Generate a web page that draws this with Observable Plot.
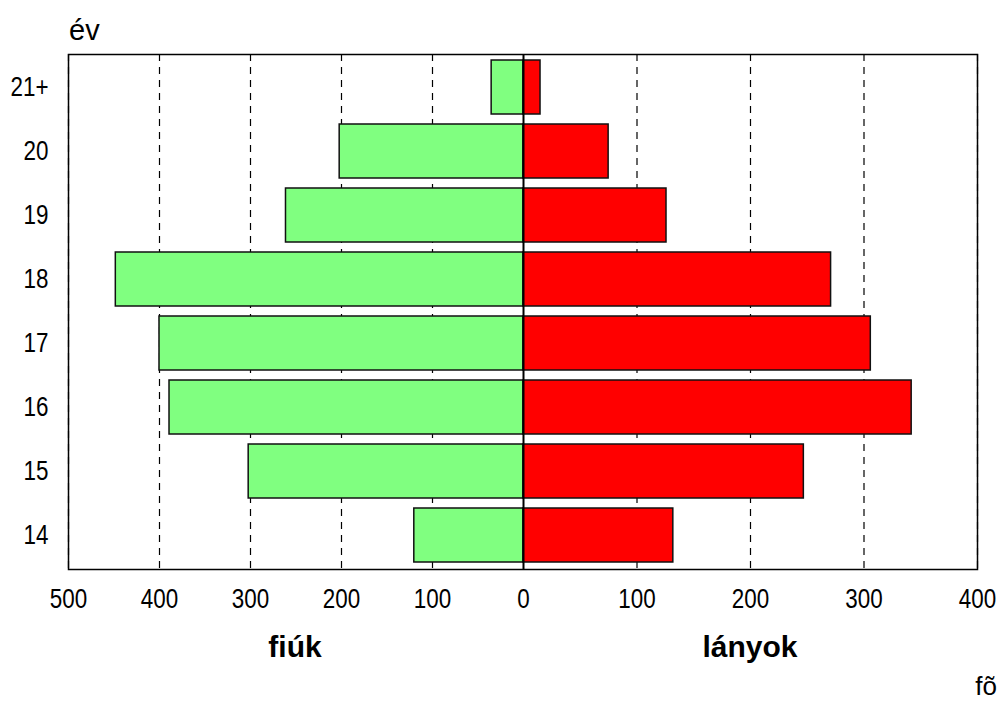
<!DOCTYPE html>
<html>
<head>
<meta charset="utf-8">
<script src="https://cdn.jsdelivr.net/npm/d3@7"></script>
<script src="https://cdn.jsdelivr.net/npm/@observablehq/plot@0.6"></script>
<style>
  html, body { margin: 0; padding: 0; background: #fff; }
  #wrap { position: relative; width: 1000px; height: 716px; overflow: hidden; }
  #wrap svg { position: absolute; left: 0; top: 0; }
  .lbl { position: absolute; line-height: 1; white-space: nowrap; color: #000; }
  .narrow { font-family: "Liberation Sans Narrow", "Arial Narrow", "Liberation Sans", Arial, sans-serif; }
  .bold { font-family: "Liberation Sans", Arial, sans-serif; font-weight: bold; font-size: 30px; width: 240px; text-align: center; }
</style>
</head>
<body>
<div id="wrap">
  <div class="lbl narrow" style="left:69px; top:16px; font-size:29px;">év</div>
  <div class="lbl bold" style="left:175px; top:632px;">fiúk</div>
  <div class="lbl bold" style="left:630px; top:632px;">lányok</div>
  <div class="lbl narrow" style="right:3px; top:673px; font-size:26px;">fõ</div>
</div>
<script>
const ages = ["21+", "20", "19", "18", "17", "16", "15", "14"];
const fiuk = [35, 202, 261, 448, 400, 389, 302, 120];
const lanyok = [15, 75, 126, 271, 306, 342, 247, 132];
const xTicks = [-500, -400, -300, -200, -100, 0, 100, 200, 300, 400];

const boys = ages.map((a, i) => ({age: a, v: -fiuk[i]}));
const girls = ages.map((a, i) => ({age: a, v: lanyok[i]}));
const gridTicks = xTicks.filter(t => t !== 0);

const font = '"Liberation Sans Narrow", "Arial Narrow", "Liberation Sans", Arial, sans-serif';

const chart = Plot.plot({
  width: 1000,
  height: 716,
  marginTop: 54,
  marginLeft: 68,
  marginRight: 23,
  marginBottom: 147,
  style: {fontFamily: font, background: "white", color: "black"},
  x: {type: "linear", domain: [-500, 0, 400], range: [68, 523, 977]},
  y: {domain: ages, paddingInner: 0.15, paddingOuter: 0.075, align: 0.5},
  marks: [
    Plot.ruleX(gridTicks, {stroke: "black", strokeWidth: 1.2, strokeDasharray: "7,6"}),
    Plot.barX(boys, {x1: 0, x2: "v", y: "age", fill: "#80ff80", stroke: "#111", strokeWidth: 1.5}),
    Plot.barX(girls, {x1: 0, x2: "v", y: "age", fill: "#ff0000", stroke: "#111", strokeWidth: 1.5}),
    Plot.ruleX([0], {stroke: "black", strokeWidth: 2}),
    Plot.frame({stroke: "black", strokeWidth: 1.5}),
    Plot.axisX({ticks: xTicks, tickFormat: d => Math.abs(d), tickSize: 0, tickPadding: 19, fontSize: 27, label: null}),
    Plot.axisY({tickSize: 0, tickPadding: 20, fontSize: 27, label: null})
  ]
});
// condense tick labels horizontally to mimic a narrow face
chart.querySelectorAll('g[aria-label$="tick label"] text').forEach(t => {
  const tr = t.getAttribute("transform") || "";
  t.setAttribute("transform", tr + " scale(0.83,1)");
});
document.getElementById("wrap").prepend(chart);
</script>
</body>
</html>
